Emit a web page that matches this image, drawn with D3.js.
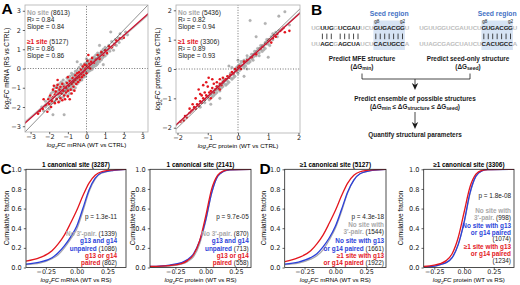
<!DOCTYPE html>
<html><head><meta charset="utf-8">
<script src="https://cdn.jsdelivr.net/npm/d3@7/dist/d3.min.js"></script>
<style>
body{margin:0;background:#fff}
svg{display:block}
text{font-family:"Liberation Sans",Arial,sans-serif}
.tick text{font-family:"DejaVu Sans",sans-serif}
</style>
</head><body>
<svg width="520" height="285"></svg>
<script>
// ---- panel A data: log2FC (WT vs CTRL) vs log2FC (RS vs CTRL)
const mrnaNoSite = [[-2.6,-2.3],[-2.4,-2.0],[-2.3,-2.2],[-2.2,-1.7],[-2.1,-1.9],[-2.0,-1.5],[-2.0,-2.1],[-1.9,-1.3],[-1.9,-1.8],[-1.8,-2.4],[-1.85,-1.6],
  [-1.8,-1.2],[-1.75,-1.45],[-1.7,-1.7],[-1.7,-1.0],[-1.65,-1.35],[-1.6,-1.55],[-1.6,-0.9],[-1.55,-1.2],[-1.5,-1.4],[-1.5,-1.0],[-1.45,-1.7],[-1.45,-0.8],[-1.4,-1.25],[-1.4,-1.5],
  [-1.35,-1.1],[-1.35,-0.7],[-1.3,-1.3],[-1.3,-0.95],[-1.25,-1.5],[-1.25,-0.6],[-1.2,-1.15],[-1.2,-0.85],[-1.2,-2.4],[-1.15,-1.0],[-1.15,-1.35],[-1.1,-0.7],[-1.1,-1.2],[-1.05,-0.9],[-1.05,-0.5],[-1.0,-1.05],[-1.0,-1.4],[-1.0,-0.75],
  [-0.95,-0.6],[-0.95,-1.15],[-0.9,-0.85],[-0.9,-0.4],[-0.9,-1.3],[-0.85,-0.7],[-0.85,-1.0],[-0.8,-0.55],[-0.8,-0.9],[-0.8,-0.25],[-0.75,-0.75],[-0.75,-1.1],[-0.7,-0.45],[-0.7,-0.6],[-0.7,-0.9],[-0.65,-0.3],[-0.65,-0.75],[-0.6,-0.5],[-0.6,-1.0],[-0.6,-0.15],
  [-0.55,-0.35],[-0.55,-0.65],[-0.5,-0.45],[-0.5,-0.8],[-0.5,-0.1],[-0.45,-0.55],[-0.45,-0.25],[-0.4,-0.4],[-0.4,-0.7],[-0.4,0.05],[-0.35,-0.3],[-0.35,-0.55],[-0.3,-0.15],[-0.3,-0.45],[-0.3,0.2],[-0.25,-0.3],[-0.25,-0.6],[-0.2,-0.1],[-0.2,-0.35],[-0.2,0.1],
  [-0.15,-0.2],[-0.15,-0.45],[-0.1,0.0],[-0.1,-0.25],[-0.1,0.25],[-0.05,-0.1],[-0.05,-0.4],[0.0,0.05],[0.0,-0.2],[0.0,0.3],[0.05,-0.05],[0.05,0.15],[0.1,0.1],[0.1,-0.15],[0.1,0.4],[0.15,0.0],[0.15,0.25],[0.2,0.15],[0.2,-0.1],[0.2,0.45],[0.25,0.3],[0.25,0.05],
  [0.3,0.2],[0.3,0.5],[0.3,-0.05],[0.35,0.35],[0.35,0.1],[0.4,0.25],[0.4,0.6],[0.45,0.4],[0.45,0.15],[0.5,0.3],[0.5,0.7],[0.55,0.5],[0.55,0.2],[0.6,0.45],[0.6,0.8],[0.65,0.6],[0.7,0.35],[0.7,0.7],[0.75,0.55],[0.8,0.9],[0.8,0.45],
  [0.85,0.7],[0.9,0.6],[0.9,1.0],[0.95,0.8],[1.0,0.65],[1.0,1.1],[1.05,0.9],[1.1,0.75],[1.15,1.0],[1.2,1.2],[1.25,0.9],[1.3,1.05],[1.35,1.4],[1.4,1.15],[1.45,0.95],[1.5,1.3],
  [1.55,1.5],[1.6,1.2],[1.7,1.6],[1.75,1.35],[1.8,1.8],[1.9,1.55],[2.0,1.7],[2.1,1.9],[2.2,1.75],[1.3,1.9],[0.7,1.2],[-0.5,0.35],[0.9,0.2],
  [-1.6,-1.3],[-1.5,-1.15],[-1.4,-1.05],[-1.3,-1.15],[-1.25,-0.8],[-1.15,-0.9],[-1.1,-1.05],[-1.05,-1.2],[-0.95,-0.8],[-0.9,-1.0],[-0.85,-0.55],[-0.8,-0.7],[-0.75,-0.6],[-0.75,-0.35],
  [-0.7,-0.75],[-0.65,-0.5],[-0.6,-0.65],[-0.6,-0.35],[-0.55,-0.5],[-0.5,-0.6],[-0.5,-0.3],[-0.45,-0.4],[-0.4,-0.55],[-0.4,-0.25],[-0.35,-0.15],[-0.35,-0.45],[-0.3,-0.3],[-0.25,-0.15],
  [-0.25,-0.45],[-0.2,-0.25],[-0.15,-0.05],[-0.15,0.15],[-0.1,-0.15],[-0.05,0.1],[-0.05,-0.25],[0.0,-0.05],[0.05,0.3],[0.05,-0.2],[0.1,0.25],[0.15,-0.05],[0.2,0.3],[0.25,0.15],
  [0.3,0.35],[0.35,0.5],[0.4,0.1],[0.45,0.55],[0.5,0.15],[0.55,0.35],[0.65,0.4],[0.75,0.8],[0.85,0.55],[1.1,0.95],[-1.9,-1.55],[-2.2,-2.0],[-1.7,-1.2],[-0.3,-0.6],[0.0,0.5],[0.6,0.25]];
const mrnaSite = [[-2.6,-2.35],[-2.5,-2.2],[-2.35,-2.1],[-2.2,-1.9],[-2.1,-2.25],[-2.05,-1.6],[-2.0,-1.85],[-1.95,-1.4],[-1.9,-2.0],[-1.85,-1.7],[-1.8,-1.5],[-1.8,-1.1],[-1.75,-0.9],[-1.7,-1.35],[-1.7,-1.8],
  [-1.65,-1.2],[-1.6,-1.0],[-1.6,-1.6],[-1.55,-0.85],[-1.5,-1.3],[-1.5,-1.75],[-1.45,-1.1],[-1.4,-0.95],[-1.4,-1.55],[-1.35,-1.3],[-1.3,-0.8],[-1.3,-1.65],[-1.25,-1.15],[-1.2,-1.4],[-1.2,-0.95],
  [-1.15,-1.6],[-1.1,-1.0],[-1.1,-1.25],[-1.05,-0.75],[-1.0,-1.15],[-1.0,-1.45],[-0.95,-0.9],[-0.9,-1.6],[-0.9,-0.65],[-0.85,-1.1],[-0.8,-0.8],[-0.8,-1.3],[-0.75,-0.5],[-0.7,-0.95],[-0.7,-0.7],
  [-0.65,-1.15],[-0.6,-0.6],[-0.6,-0.35],[-0.55,-0.8],[-0.5,-0.5],[-0.5,-0.25],[-0.45,-0.7],[-0.4,-0.45],[-0.4,-0.2],[-0.35,-0.6],[-0.3,-0.3],[-0.3,-0.05],[-0.25,-0.45],[-0.2,-0.2],[-0.2,0.1],
  [-0.15,-0.35],[-0.1,-0.1],[-0.1,0.2],[-0.05,0.0],[0.0,0.15],[0.0,-0.25],[0.05,0.4],[0.1,0.05],[0.1,0.7],[0.15,0.25],[0.2,0.0],[0.25,0.35],[0.3,0.55],[0.4,0.3],[0.5,0.45],[0.6,0.7],[0.7,0.5],
  [0.8,0.85],[0.9,0.7],[1.0,0.95],[1.1,0.8],[1.2,1.15],[1.35,1.1],[1.5,1.25],[1.6,1.45],[1.8,1.55],[2.0,1.6],[-1.55,-0.6],[-2.3,-1.6],[-1.0,-0.45]];
const protNoSite = [[-1.1,-1.15],[-1.0,-0.95],[-0.95,-1.05],[-0.9,-0.85],[-0.85,-0.95],[-0.8,-0.75],[-0.8,-0.9],[-0.75,-0.7],[-0.7,-0.8],[-0.7,-0.6],[-0.65,-0.7],[-0.6,-0.55],[-0.6,-0.75],
  [-0.55,-0.5],[-0.5,-0.6],[-0.5,-0.4],[-0.45,-0.5],[-0.4,-0.35],[-0.4,-0.55],[-0.35,-0.4],[-0.3,-0.25],[-0.3,-0.45],[-0.25,-0.3],[-0.2,-0.15],[-0.2,-0.35],[-0.15,-0.2],[-0.1,-0.05],[-0.1,-0.25],
  [-0.05,-0.1],[0.0,0.0],[0.0,-0.15],[0.05,0.05],[0.05,0.15],[0.1,0.0],[0.1,0.15],[0.15,0.1],[0.15,0.25],[0.2,0.15],[0.2,0.05],[0.25,0.25],[0.3,0.2],[0.3,0.35],[0.35,0.3],[0.4,0.4],[0.4,0.25],
  [0.45,0.35],[0.5,0.5],[0.5,0.4],[0.55,0.45],[0.6,0.6],[0.6,0.45],[0.65,0.55],[0.7,0.7],[0.7,0.55],[0.75,0.65],[0.8,0.8],[0.8,0.6],[0.85,0.75],[0.9,0.9],[0.9,0.7],[0.95,0.85],[1.0,1.0],
  [1.0,0.85],[1.05,0.95],[1.1,1.1],[1.15,1.0],[1.2,1.15],[1.25,1.25],[1.3,1.1],[1.35,1.3],[0.4,1.65],[0.9,1.55],[1.35,1.8],[1.55,1.95],[0.6,1.1],[-0.3,0.1],[0.2,-0.25],[-0.9,-1.2],
  [-1.25,-1.3],[1.7,1.5],[1.0,0.4],[-0.6,-1.0],
  [-0.75,-0.85],[-0.65,-0.6],[-0.55,-0.65],[-0.45,-0.35],[-0.35,-0.5],[-0.25,-0.15],[-0.15,-0.3],[-0.05,0.05],[0.0,0.1],[0.05,-0.05],[0.1,0.25],[0.2,0.3],[0.25,0.1],[0.3,0.45],
  [0.35,0.2],[0.45,0.5],[0.5,0.3],[0.55,0.6],[0.65,0.7],[0.7,0.45],[0.75,0.8],[0.85,0.65],[0.95,1.0],[1.05,0.8],[1.15,1.2],[-0.2,0.05],[0.0,0.3],[0.3,0.0]];
const protSite = [[-1.9,-1.8],[-1.8,-1.75],[-1.75,-1.6],[-1.7,-1.65],[-1.6,-1.5],[-1.55,-1.45],[-1.5,-1.4],[-1.45,-1.3],[-1.4,-1.35],[-1.35,-1.2],[-1.3,-1.25],[-1.25,-1.1],[-1.2,-1.15],[-1.2,-0.9],
  [-1.15,-1.0],[-1.1,-1.05],[-1.1,-0.8],[-1.05,-0.9],[-1.0,-0.95],[-1.0,-0.6],[-0.97,-0.3],[-0.95,-0.8],[-0.9,-0.75],[-0.9,-1.0],[-0.85,-0.65],[-0.8,-0.8],[-0.8,-0.5],[-0.75,-0.7],[-0.7,-0.6],
  [-0.7,-0.45],[-0.65,-0.65],[-0.6,-0.5],[-0.6,-0.35],[-0.55,-0.55],[-0.5,-0.45],[-0.5,-0.3],[-0.45,-0.4],[-0.4,-0.35],[-0.35,-0.25],[-0.3,-0.3],[-0.25,-0.2],[-0.2,-0.1],[-0.15,-0.15],[-0.1,0.0],
  [-0.05,-0.05],[0.0,0.05],[0.05,0.1],[0.1,0.0],[0.2,0.25],[0.3,0.3],[0.45,0.4],[0.6,0.5],[0.75,0.7],[0.9,0.85],[1.0,0.95],[1.1,0.9],[1.2,1.15],[1.3,1.2],[1.45,1.35],[1.55,1.25],[1.7,1.3],
  [-1.3,-0.7],[-1.4,-1.0],[-1.25,-0.85],[-1.15,-0.55],[-1.05,-0.45],[-0.85,-0.35],
  [0.8,0.75],[1.05,1.0],[1.15,1.05],[1.25,1.1],[1.4,1.3],[1.5,1.4],[-0.6,-0.7],[-1.6,-1.35],[-1.5,-1.2]];
// regression lines [no site, >=1 site]
const mrnaSlopes = [0.84, 0.86], mrnaR2 = [0.84, 0.86], mrnaN = [8613, 5127];
const protSlopes = [0.94, 0.93], protR2 = [0.82, 0.89], protN = [5436, 3306];
const mrnaTicks = [-3,-2,-1,0,1,2,3];
const protTicks = [-2,-1,0,1,2];

// ---- panels C, D data: cumulative fraction at log2FC (WT vs RS)
const cdfTicksX = [-0.25, 0, 0.25];
const cdfTicksY = [0, 0.2, 0.4, 0.6, 0.8, 1.0];
const cMrnaX    = [-0.41,-0.3,-0.2,-0.15,-0.1,-0.05,0,0.05,0.1,0.15,0.2,0.3,0.41];
const cMrnaRed  = [0.065,0.1,0.17,0.24,0.33,0.45,0.58,0.73,0.86,0.94,0.975,0.995,1];
const cMrnaBlue = [0.035,0.055,0.1,0.15,0.22,0.31,0.42,0.6,0.79,0.91,0.965,0.99,1];
const cMrnaGray = [0.03,0.045,0.09,0.13,0.2,0.29,0.39,0.57,0.77,0.9,0.96,0.99,1];
const cProtX    = [-0.46,-0.3,-0.2,-0.15,-0.1,-0.05,0,0.05,0.1,0.15,0.2,0.38];
const cProtRed  = [0.01,0.02,0.04,0.07,0.13,0.27,0.52,0.8,0.94,0.985,0.997,1];
const cProtBlue = [0.01,0.025,0.05,0.08,0.14,0.27,0.48,0.76,0.93,0.98,0.995,1];
const cProtGray = [0.005,0.015,0.035,0.06,0.11,0.24,0.47,0.76,0.93,0.98,0.995,1];
const dMrnaX    = [-0.41,-0.3,-0.2,-0.15,-0.1,-0.05,0,0.05,0.1,0.15,0.2,0.3,0.41];
const dMrnaRed  = [0.06,0.1,0.17,0.24,0.33,0.45,0.58,0.73,0.86,0.94,0.975,0.995,1];
const dMrnaBlue = [0.035,0.055,0.1,0.14,0.21,0.3,0.42,0.59,0.77,0.89,0.955,0.99,1];
const dMrnaGray = [0.03,0.045,0.085,0.12,0.18,0.28,0.4,0.57,0.76,0.89,0.955,0.99,1];
const dProtX    = [-0.34,-0.25,-0.2,-0.15,-0.1,-0.05,0,0.05,0.1,0.15,0.2,0.42];
const dProtRed  = [0.01,0.025,0.04,0.07,0.14,0.3,0.56,0.82,0.95,0.99,0.998,1];
const dProtBlue = [0.005,0.015,0.03,0.05,0.1,0.23,0.46,0.76,0.93,0.985,0.997,1];
const dProtGray = [0.005,0.015,0.03,0.05,0.1,0.23,0.45,0.75,0.93,0.985,0.997,1];

// ---- panel B sequences
const topSeq = 'UGUUGGUCGAUUCUGUGACGGU';
const botSeq = 'UUAGCGAGCUAUCUCACUGCCA';
const mfeMask  = 'ggkkkgkkkkkgggkkkkkkkg';
const seedMask = 'ggggggggggggggkkkkkkkg';

const RED = '#e3161e', BLUE = '#2b3fd9', GRAY = '#a9a9a9';
const svg = d3.select('svg');

function logLabel(t, rest) {
  t.append('tspan').attr('font-style', 'italic').text('log');
  t.append('tspan').attr('font-size', '0.7em').attr('dy', 1.5).text('2');
  t.append('tspan').attr('font-style', 'italic').attr('dy', -1.5).text('FC');
  t.append('tspan').text(' ' + rest);
}

function styleAxis(a, fs) {
  a.select('.domain').remove();
  a.selectAll('.tick line').attr('stroke', '#222').attr('stroke-width', 0.7);
  a.selectAll('.tick text').attr('font-size', fs).attr('fill', '#222');
}

let clipN = 0;
function frame(x, y, stroke) {
  const [x0, x1] = x.range(), [y1, y0] = y.range();
  const id = 'clip' + (clipN++);
  svg.append('clipPath').attr('id', id).append('rect')
    .attr('x', x0).attr('y', y0).attr('width', x1 - x0).attr('height', y1 - y0);
  return {id, draw: () => svg.append('rect').attr('x', x0).attr('y', y0)
    .attr('width', x1 - x0).attr('height', y1 - y0)
    .attr('fill', 'none').attr('stroke', stroke).attr('stroke-width', 0.8)};
}

function scatter(o) {
  const x = d3.scaleLinear().domain(o.xd).range(o.xr);
  const y = d3.scaleLinear().domain(o.yd).range(o.yr);
  const f = frame(x, y, '#b0b0b0');
  const g = svg.append('g').attr('clip-path', `url(#${f.id})`);
  g.selectAll('.g').data(o.gray).enter().append('circle')
    .attr('cx', d => x(d[0])).attr('cy', d => y(d[1])).attr('r', 1.3)
    .attr('fill', '#b4b4b4').attr('stroke', '#999').attr('stroke-width', 0.3);
  g.selectAll('.r').data(o.red).enter().append('circle')
    .attr('cx', d => x(d[0])).attr('cy', d => y(d[1])).attr('r', 1.3)
    .attr('fill', RED);
  // zero lines
  g.append('line').attr('x1', x(0)).attr('x2', x(0)).attr('y1', o.yr[0]).attr('y2', o.yr[1])
    .attr('stroke', '#333').attr('stroke-width', 0.7).attr('stroke-dasharray', '1,1.6');
  g.append('line').attr('y1', y(0)).attr('y2', y(0)).attr('x1', o.xr[0]).attr('x2', o.xr[1])
    .attr('stroke', '#333').attr('stroke-width', 0.7).attr('stroke-dasharray', '1,1.6');
  // identity and fits
  const ext = [o.xd[0] - 1, o.xd[1] + 1];
  g.append('line').attr('x1', x(ext[0])).attr('y1', y(ext[0])).attr('x2', x(ext[1])).attr('y2', y(ext[1]))
    .attr('stroke', '#444').attr('stroke-width', 0.6);
  [[o.slopes[0], '#bdbdbd', 1.3], [o.slopes[1], '#c8102e', 1.3]].forEach(([s, c, w]) => {
    g.append('line').attr('x1', x(ext[0])).attr('y1', y(s * ext[0])).attr('x2', x(ext[1])).attr('y2', y(s * ext[1]))
      .attr('stroke', c).attr('stroke-width', w);
  });
  f.draw();
  styleAxis(svg.append('g').attr('transform', `translate(0,${o.yr[0]})`)
    .call(d3.axisBottom(x).tickValues(o.ticks).tickSize(2.2).tickPadding(0.6).tickFormat(d3.format('d'))), 6.5);
  styleAxis(svg.append('g').attr('transform', `translate(${o.xr[0]},0)`)
    .call(d3.axisLeft(y).tickValues(o.ticks).tickSize(2.2).tickPadding(2).tickFormat(d3.format('d'))), 6.5);
  const xl = svg.append('text').attr('x', (o.xr[0] + o.xr[1]) / 2).attr('y', o.yr[0] + 15.2)
    .attr('text-anchor', 'middle').attr('font-size', 6.2);
  logLabel(xl, o.xlab);
  const yl = svg.append('text').attr('transform', `translate(${o.ylx},${(o.yr[0] + o.yr[1]) / 2}) rotate(-90)`)
    .attr('text-anchor', 'middle').attr('font-size', 6.4);
  logLabel(yl, o.ylab);
  // legend text
  const lx = o.xr[0] + 2;
  const rows = [
    [o.yr[1] + 10, [['No site', GRAY, true], [` (${o.n[0]})`, '#222', false]]],
    [o.yr[1] + 17, [[`R² = ${o.r2[0].toFixed(2)}`, '#222', false]]],
    [o.yr[1] + 24, [[`Slope = ${o.slopes[0].toFixed(2)}`, '#222', false]]],
    [o.yr[1] + 39.3, [['≥1 site', RED, true], [` (${o.n[1]})`, '#222', false]]],
    [o.yr[1] + 46.3, [[`R² = ${o.r2[1].toFixed(2)}`, '#222', false]]],
    [o.yr[1] + 53.3, [[`Slope = ${o.slopes[1].toFixed(2)}`, '#222', false]]]];
  rows.forEach(([yy, segs]) => {
    const t = svg.append('text').attr('x', lx).attr('y', yy).attr('font-size', 6.6);
    segs.forEach(([s, c, b]) => t.append('tspan').attr('fill', c).attr('font-weight', b ? 'bold' : 'normal').text(s));
  });
}

scatter({xd: [-3.3, 3.3], yd: [-3.3, 3.3], xr: [25, 148], yr: [132, 5], ticks: mrnaTicks,
  gray: mrnaNoSite, red: mrnaSite, slopes: mrnaSlopes, r2: mrnaR2, n: mrnaN,
  xlab: 'mRNA (WT vs CTRL)', ylab: 'mRNA (RS vs CTRL)', ylx: 9});
scatter({xd: [-2.05, 2.05], yd: [-2.18, 2.18], xr: [176, 300], yr: [133, 5], ticks: protTicks,
  gray: protNoSite, red: protSite, slopes: protSlopes, r2: protR2, n: protN,
  xlab: 'protein (WT vs CTRL)', ylab: 'protein (RS vs CTRL)', ylx: 160});

function cdf(o) {
  const x = d3.scaleLinear().domain(o.xd).range(o.xr);
  const y = d3.scaleLinear().domain([0, 1]).range([267.5, 169.3]);
  const f = frame(x, y, '#222');
  const g = svg.append('g').attr('clip-path', `url(#${f.id})`);
  const line = d3.line().x(d => x(d[0])).y(d => y(d[1])).curve(d3.curveMonotoneX);
  [[o.gray, '#a8a8b0'], [o.blue, BLUE], [o.red, RED]].forEach(([ys, c]) => {
    g.append('path').attr('d', line(o.xs.map((v, i) => [v, ys[i]])))
      .attr('fill', 'none').attr('stroke', c).attr('stroke-width', 1.3);
  });
  f.draw();
  styleAxis(svg.append('g').attr('transform', 'translate(0,267.5)')
    .call(d3.axisBottom(x).tickValues(cdfTicksX).tickSize(2.2).tickPadding(0.2).tickFormat(d3.format('.2f'))), 6.4);
  styleAxis(svg.append('g').attr('transform', `translate(${o.xr[0]},0)`)
    .call(d3.axisLeft(y).tickValues(cdfTicksY).tickSize(2.2).tickPadding(2).tickFormat(d3.format('.1f'))), 6.6);
  svg.append('text').attr('x', (o.xr[0] + o.xr[1]) / 2).attr('y', 166.5).attr('text-anchor', 'middle')
    .attr('font-size', 6.4).attr('font-weight', 'bold').text(o.title);
  const xl = svg.append('text').attr('x', (o.xr[0] + o.xr[1]) / 2).attr('y', 282)
    .attr('text-anchor', 'middle').attr('font-size', 6.1);
  logLabel(xl, o.xlab);
  svg.append('text').attr('transform', `translate(${o.ylx},218) rotate(-90)`)
    .attr('text-anchor', 'middle').attr('font-size', 6.4).text('Cumulative fraction');
  o.notes.forEach(([yy, segs]) => {
    const t = svg.append('text').attr('x', o.noteX).attr('y', yy + 2.3).attr('text-anchor', 'end').attr('font-size', 6.4);
    segs.forEach(([s, c, b]) => t.append('tspan').attr('fill', c).attr('font-weight', b ? 'bold' : 'normal').text(s));
  });
}

const K = '#222';
cdf({xd: [-0.411, 0.40], xr: [26, 126], xs: cMrnaX, red: cMrnaRed, blue: cMrnaBlue, gray: cMrnaGray,
  title: '1 canonical site (3287)', xlab: 'mRNA (WT vs RS)', ylx: 8.5, noteX: 117,
  notes: [[216.7, [['p = 1.3e-11', K, false]]],
    [233.3, [["No 3'-pair.", GRAY, true], [' (1339)', K, false]]],
    [241, [['g13 and g14', BLUE, true]]],
    [248.3, [['unpaired', BLUE, true], [' (1086)', K, false]]],
    [255.7, [['g13 or g14', RED, true]]],
    [262.7, [['paired', RED, true], [' (862)', K, false]]]]});
cdf({xd: [-0.46, 0.375], xr: [150, 251], xs: cProtX, red: cProtRed, blue: cProtBlue, gray: cProtGray,
  title: '1 canonical site (2141)', xlab: 'protein (WT vs RS)', ylx: 135, noteX: 248.7,
  notes: [[216.7, [['p = 9.7e-05', K, false]]],
    [233.3, [["No 3'-pair.", GRAY, true], [' (870)', K, false]]],
    [241, [['g13 and g14', BLUE, true]]],
    [248.3, [['unpaired', BLUE, true], [' (713)', K, false]]],
    [255.7, [['g13 or g14', RED, true]]],
    [262.7, [['paired', RED, true], [' (558)', K, false]]]]});
cdf({xd: [-0.411, 0.411], xr: [284.7, 386], xs: dMrnaX, red: dMrnaRed, blue: dMrnaBlue, gray: dMrnaGray,
  title: '≥1 canonical site (5127)', xlab: 'mRNA (WT vs RS)', ylx: 266, noteX: 384,
  notes: [[216.7, [['p = 4.3e-18', K, false]]],
    [224.3, [['No site with', GRAY, true]]],
    [231.7, [["3'-pair.", GRAY, true], [' (1544)', K, false]]],
    [241, [['No site with g13', BLUE, true]]],
    [248.3, [['or g14 paired', BLUE, true], [' (1661)', K, false]]],
    [255.7, [['≥1 site with g13', RED, true]]],
    [262.7, [['or g14 paired', RED, true], [' (1922)', K, false]]]]});
cdf({xd: [-0.339, 0.42], xr: [423.7, 514], xs: dProtX, red: dProtRed, blue: dProtBlue, gray: dProtGray,
  title: '≥1 canonical site (3306)', xlab: 'protein (WT vs RS)', ylx: 403, noteX: 511,
  notes: [[196, [['p = 1.8e-08', K, false]]],
    [211, [['No site with', GRAY, true]]],
    [217.7, [["3'-pair.", GRAY, true], [' (998)', K, false]]],
    [225.7, [['No site with g13', BLUE, true]]],
    [232.3, [['or g14 paired', BLUE, true]]],
    [239, [['(1074)', K, false]]],
    [246.7, [['≥1 site with g13', RED, true]]],
    [253.3, [['or g14 paired', RED, true]]],
    [261, [['(1234)', K, false]]]]});

// ---- panel B diagram
const step = 4.45;
function duplex(x0, mask) {
  const pos = d3.range(topSeq.length).map(i => x0 + i * step);
  svg.append('rect').attr('x', pos[14] - 2.4).attr('y', 20.5).attr('width', pos[20] - pos[14] + 4.8)
    .attr('height', 29.5).attr('fill', '#d6e3f4');
  svg.append('text').attr('x', (pos[14] + pos[20]) / 2).attr('y', 15.8).attr('text-anchor', 'middle')
    .attr('font-size', 6.8).attr('font-weight', 'bold').attr('fill', '#4472c4').text('Seed region');
  [['g8', pos[14] + 1], ['g2', pos[20]]].forEach(([s, xx]) => svg.append('text').attr('x', xx).attr('y', 22.6)
    .attr('text-anchor', 'middle').attr('font-size', 4.6).attr('fill', '#222').text(s));
  [[topSeq, 29.5], [botSeq, 45.7]].forEach(([seq, yy]) => {
    svg.selectAll(null).data(seq.split('')).enter().append('text')
      .attr('x', (d, i) => pos[i]).attr('y', yy).attr('text-anchor', 'middle')
      .attr('font-size', 6.2).attr('font-weight', 'bold')
      .attr('fill', (d, i) => mask[i] === 'k' ? '#1a1a1a' : '#bdbdbd').text(d => d);
  });
  svg.selectAll(null).data(pos.filter((p, i) => mask[i] === 'k')).enter().append('line')
    .attr('x1', d => d).attr('x2', d => d).attr('y1', 33.6).attr('y2', 39.2)
    .attr('stroke', '#1a1a1a').attr('stroke-width', 0.8);
}
duplex(313.5, mfeMask);
duplex(421.5, seedMask);

function dG(t, sub, pre, post) {
  t.append('tspan').text(pre + 'ΔG');
  t.append('tspan').attr('font-size', '0.8em').attr('dy', 1.6).text(sub);
  t.append('tspan').attr('dy', -1.6).text(post);
}
const bt = (x, y) => svg.append('text').attr('x', x).attr('y', y).attr('text-anchor', 'middle')
  .attr('font-size', 6.4).attr('font-weight', 'bold').attr('fill', '#1a1a1a');
bt(362, 60.5).text('Predict MFE structure');
dG(bt(362, 68.8), 'min', '(', ')');
bt(468, 60.5).text('Predict seed-only structure');
dG(bt(468, 68.8), 'seed', '(', ')');
bt(415, 100.5).text('Predict ensemble of possible structures');
const ens = bt(415, 108.8);
dG(ens, 'min', '(', ' ≤ ');
ens.append('tspan').text('ΔG');
ens.append('tspan').attr('font-size', '0.8em').attr('dy', 1.6).text('structure');
ens.append('tspan').attr('dy', -1.6).text(' ≤ ΔG');
ens.append('tspan').attr('font-size', '0.8em').attr('dy', 1.6).text('seed');
ens.append('tspan').attr('dy', -1.6).text(')');
bt(415, 137.3).text('Quantify structural parameters');

svg.append('path').attr('d', 'M362,73.5V79H470V73.5M415,79V87')
  .attr('fill', 'none').attr('stroke', '#1a1a1a').attr('stroke-width', 0.8);
svg.append('path').attr('d', 'M415,112V126').attr('stroke', '#1a1a1a').attr('stroke-width', 0.8);
[90, 129].forEach(tip => svg.append('path')
  .attr('d', `M415,${tip}L411.8,${tip - 7}L415,${tip - 5}L418.2,${tip - 7}Z`).attr('fill', '#1a1a1a'));

// panel letters
[['A', 1.5, 14], ['B', 311, 15], ['C', 0.5, 174], ['D', 259.5, 174]].forEach(([s, x, y]) =>
  svg.append('text').attr('x', x).attr('y', y).attr('font-size', 15.5).attr('font-weight', 'bold').text(s));
</script>
</body></html>
